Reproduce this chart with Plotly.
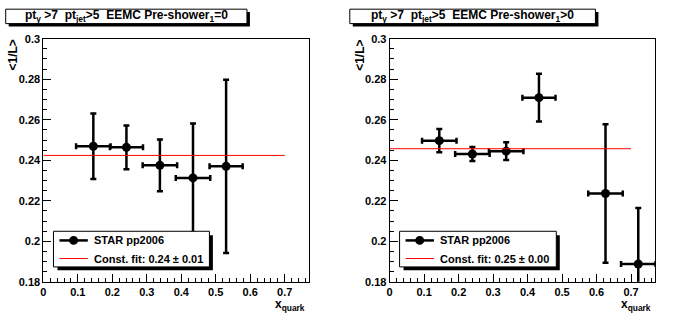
import plotly.graph_objects as go

# ---------------- data ----------------
xq_ps0 = [0.145, 0.241, 0.338, 0.434, 0.530]
val_ps0 = [0.2469, 0.2464, 0.2375, 0.2313, 0.2370]
err_ps0 = [0.0162, 0.0108, 0.0128, 0.0268, 0.0428]
xerr_ps0 = [0.050, 0.048, 0.050, 0.050, 0.048]
fit_ps0 = 0.2424

xq_ps1 = [0.144, 0.240, 0.338, 0.433, 0.626, 0.721]
val_ps1 = [0.2497, 0.2431, 0.2445, 0.2709, 0.2236, 0.1888]
err_ps1 = [0.0058, 0.0034, 0.0044, 0.0118, 0.0342, 0.0277]
xerr_ps1 = [0.050, 0.050, 0.050, 0.048, 0.050, 0.050]
fit_ps1 = 0.2457

fit_range = [0.0, 0.7]
x_range = [0.0, 0.77]
y_range = [0.18, 0.30]

titles = ["pt<sub>\u03b3</sub> >7\u00a0\u00a0pt<sub>jet</sub>>5\u00a0\u00a0EEMC Pre-shower<sub>1</sub>=0",
          "pt<sub>\u03b3</sub> >7\u00a0\u00a0pt<sub>jet</sub>>5\u00a0\u00a0EEMC Pre-shower<sub>1</sub>>0"]
legend_data = "STAR pp2006"
legend_fit = ["Const. fit: 0.24 \u00b1 0.01", "Const. fit: 0.25 \u00b1 0.00"]

# ---------------- layout helpers ----------------
W, H = 696, 322
FONT = "Liberation Sans"


def px(x):
    return x / W


def py(y):
    return 1 - y / H


fig = go.Figure()

panels = [
    dict(x=xq_ps0, y=val_ps0, ey=err_ps0, ex=xerr_ps0, fit=fit_ps0, ax="", left=40.5),
    dict(x=xq_ps1, y=val_ps1, ey=err_ps1, ex=xerr_ps1, fit=fit_ps1, ax="2", left=388.3),
]

for p in panels:
    xa = "x" + p["ax"]
    ya = "y" + p["ax"]
    fig.add_trace(go.Scatter(
        x=p["x"], y=p["y"], mode="markers", xaxis=xa, yaxis=ya,
        marker=dict(color="black", size=9),
        error_y=dict(type="data", array=p["ey"], color="black", thickness=2.5, width=3),
        error_x=dict(type="data", array=p["ex"], color="black", thickness=2.5, width=3),
        showlegend=False, hoverinfo="skip"))
    fig.add_trace(go.Scatter(
        x=fit_range, y=[p["fit"], p["fit"]], mode="lines", xaxis=xa, yaxis=ya,
        line=dict(color="red", width=1), showlegend=False, hoverinfo="skip"))

tickfont = dict(family=FONT, size=11, color="black", weight="bold")
common = dict(showline=True, linecolor="black", linewidth=1, mirror=True,
              ticks="inside", ticklen=8, tickwidth=1, tickcolor="black",
              showgrid=False, zeroline=False, tickfont=tickfont)

top, bottom = 34, 286.5
plot_w = 266.7
layout = dict(width=W, height=H, autosize=False,
              margin=dict(l=0, r=0, t=0, b=0),
              paper_bgcolor="white", plot_bgcolor="white",
              font=dict(family=FONT, color="black"))
for p in panels:
    s = p["ax"]
    layout["xaxis" + s] = dict(domain=[px(p["left"]), px(p["left"] + plot_w)], range=x_range,
                               anchor="y" + s, tick0=0, dtick=0.1,
                               minor=dict(ticks="inside", ticklen=4, dtick=0.02, tickcolor="black"),
                               **common)
    layout["yaxis" + s] = dict(domain=[py(bottom), py(top)], range=y_range,
                               anchor="x" + s, tick0=0.18, dtick=0.02,
                               minor=dict(ticks="inside", ticklen=4, dtick=0.005, tickcolor="black"),
                               **common)
fig.update_layout(**layout)

shapes = []
annotations = []


def rect(x0, y0, x1, y1, fill, line_w):
    return dict(type="rect", xref="paper", yref="paper",
                x0=px(x0), x1=px(x1), y0=py(y1), y1=py(y0),
                fillcolor=fill, line=dict(color="black", width=line_w), layer="above")


bold11 = dict(family=FONT, size=11, color="black", weight="bold")

for i, p in enumerate(panels):
    # title box
    bx0, bx1 = (2.7, 245) if i == 0 else (348.3, 595)
    shapes.append(rect(bx0 + 3, 6.3, bx1 + 3, 21.3, "black", 0))
    shapes.append(rect(bx0, 3.3, bx1, 18.3, "white", 1))
    annotations.append(dict(text=titles[i], xref="paper", yref="paper",
                            x=px((bx0 + bx1) / 2), y=py(10.8), xanchor="center", yanchor="middle",
                            showarrow=False, font=dict(family=FONT, size=12, color="black", weight="bold")))
    # legend box
    lx0, lx1 = (50.7, 207.3) if i == 0 else (398.3, 555.7)
    shapes.append(rect(lx0 + 4, 238, lx1 + 3.5, 274.5, "black", 0))
    shapes.append(rect(lx0, 234, lx1, 271, "white", 1))
    sy1, sy2 = 243.5, 262.3
    shapes.append(dict(type="line", xref="paper", yref="paper",
                       x0=px(lx0 + 6), x1=px(lx0 + 34.5), y0=py(sy1), y1=py(sy1),
                       line=dict(color="black", width=2.5), layer="above"))
    shapes.append(dict(type="circle", xref="paper", yref="paper",
                       x0=px(lx0 + 20.2 - 4.5), x1=px(lx0 + 20.2 + 4.5),
                       y0=py(sy1 + 4.5), y1=py(sy1 - 4.5),
                       fillcolor="black", line=dict(color="black", width=0), layer="above"))
    shapes.append(dict(type="line", xref="paper", yref="paper",
                       x0=px(lx0 + 6), x1=px(lx0 + 34.5), y0=py(sy2), y1=py(sy2),
                       line=dict(color="red", width=1), layer="above"))
    annotations.append(dict(text=legend_data, xref="paper", yref="paper",
                            x=px(lx0 + 38.6), y=py(sy1), xanchor="left", yanchor="middle",
                            showarrow=False, font=bold11))
    annotations.append(dict(text=legend_fit[i], xref="paper", yref="paper",
                            x=px(lx0 + 38.6), y=py(sy2), xanchor="left", yanchor="middle",
                            showarrow=False, font=bold11))
    # axis titles
    annotations.append(dict(text="&lt;1/L&gt;", xref="paper", yref="paper",
                            x=px(p["left"] - 30), y=py(51), xanchor="center", yanchor="middle",
                            textangle=-90, showarrow=False,
                            font=dict(family=FONT, size=12, color="black", weight="bold")))
    annotations.append(dict(text="x<sub>quark</sub>", xref="paper", yref="paper",
                            x=px(p["left"] + plot_w - 3), y=py(301), xanchor="right", yanchor="top",
                            showarrow=False, borderpad=0,
                            font=dict(family=FONT, size=12, color="black", weight="bold")))

fig.update_layout(shapes=shapes, annotations=annotations)
fig.write_html("out.html")
